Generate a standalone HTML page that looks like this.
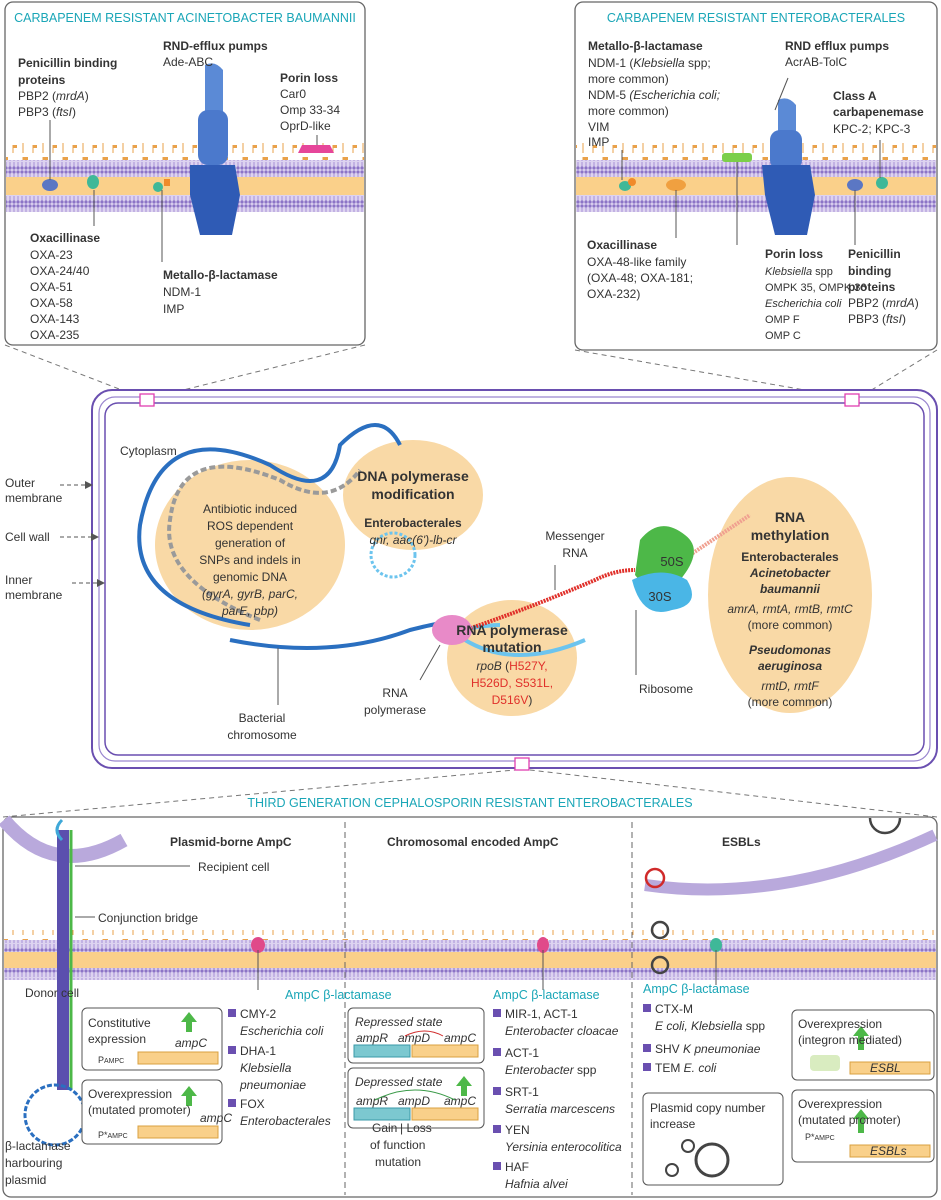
<!DOCTYPE html>
<html><head><meta charset="utf-8"><style>
body{margin:0;background:#fff}
svg{display:block;font-family:"Liberation Sans",sans-serif}
.t{font-size:12px;fill:#333}
.b{font-weight:bold}
.i{font-style:italic}
.tl{fill:#1aa6b7;font-size:12.5px}
.c{text-anchor:middle}
</style></head><body>
<svg width="941" height="1200" viewBox="0 0 941 1200" xmlns="http://www.w3.org/2000/svg">
<defs>
<pattern id="lip" width="4" height="17" patternUnits="userSpaceOnUse">
<rect width="4" height="17" fill="#ddd3f0"/><circle cx="2" cy="2" r="1.6" fill="#8c74c6"/><line x1="2" y1="3" x2="2" y2="8" stroke="#a792d6"/><line x1="2" y1="9" x2="2" y2="14" stroke="#a792d6"/><circle cx="2" cy="15" r="1.6" fill="#8c74c6"/>
</pattern>
<pattern id="flag" width="20" height="17" patternUnits="userSpaceOnUse">
<line x1="3" y1="4" x2="3" y2="17" stroke="#e9a14a"/><path d="M3 4h5v3h-5z" fill="#e9a14a"/><line x1="13" y1="9" x2="13" y2="17" stroke="#e9a14a"/><path d="M13 9h4v3h-4z" fill="#e9a14a"/>
</pattern>
<marker id="ar" markerWidth="8" markerHeight="8" refX="7" refY="4" orient="auto"><path d="M0,0 L8,4 L0,8z" fill="#555"/></marker>
</defs>

<!-- TOP LEFT PANEL -->
<rect x="5" y="2" width="360" height="343" rx="8" fill="#fff" stroke="#666" stroke-width="1.3"/>
<text x="185" y="22" class="tl c">CARBAPENEM RESISTANT ACINETOBACTER BAUMANNII</text>
<rect x="6" y="143" width="358" height="17" fill="url(#flag)"/>
<rect x="6" y="160" width="358" height="17" fill="url(#lip)"/>
<rect x="6" y="177" width="358" height="18" fill="#fad08a"/>
<rect x="6" y="195" width="358" height="17" fill="url(#lip)"/>
<path d="M205 65 q10 -5 18 5 l0 90 l-18 0z" fill="#5b8ad6"/>
<rect x="198" y="110" width="30" height="55" rx="10" fill="#4b79cc"/>
<path d="M190 165 h45 l5 30 l-8 40 h-32 l-10 -40z" fill="#2f5bb5"/>
<ellipse cx="50" cy="185" rx="8" ry="6" fill="#5b77c4"/>
<ellipse cx="93" cy="182" rx="6" ry="7" fill="#3fb898"/>
<ellipse cx="158" cy="187" rx="5" ry="5" fill="#3fb898"/><rect x="164" y="179" width="6" height="7" fill="#f08a2a"/>
<path d="M298 153 l4 -8 h28 l4 8z" fill="#e6469a"/>
<line x1="50" y1="120" x2="50" y2="180" stroke="#555"/>
<line x1="94" y1="190" x2="94" y2="226" stroke="#555"/>
<line x1="162" y1="190" x2="162" y2="262" stroke="#555"/>
<line x1="317" y1="135" x2="317" y2="145" stroke="#555"/>
<g class="t">
<text x="18" y="67" class="b">Penicillin binding</text><text x="18" y="84" class="b">proteins</text>
<text x="18" y="100">PBP2 (<tspan class="i">mrdA</tspan>)</text><text x="18" y="116">PBP3 (<tspan class="i">ftsI</tspan>)</text>
<text x="163" y="50" class="b">RND-efflux pumps</text><text x="163" y="66">Ade-ABC</text>
<text x="280" y="82" class="b">Porin loss</text><text x="280" y="98">Car0</text><text x="280" y="114">Omp 33-34</text><text x="280" y="130">OprD-like</text>
<text x="30" y="242" class="b">Oxacillinase</text><text x="30" y="259">OXA-23</text><text x="30" y="275">OXA-24/40</text><text x="30" y="291">OXA-51</text><text x="30" y="307">OXA-58</text><text x="30" y="323">OXA-143</text><text x="30" y="339">OXA-235</text>
<text x="163" y="279" class="b">Metallo-β-lactamase</text><text x="163" y="296">NDM-1</text><text x="163" y="313">IMP</text>
</g>

<!-- TOP RIGHT PANEL -->
<rect x="575" y="2" width="362" height="348" rx="8" fill="#fff" stroke="#666" stroke-width="1.3"/>
<text x="756" y="22" class="tl c">CARBAPENEM RESISTANT ENTEROBACTERALES</text>
<rect x="576" y="143" width="360" height="17" fill="url(#flag)"/>
<rect x="576" y="160" width="360" height="17" fill="url(#lip)"/>
<rect x="576" y="177" width="360" height="18" fill="#fad08a"/>
<rect x="576" y="195" width="360" height="17" fill="url(#lip)"/>
<path d="M778 100 q10 -5 18 5 l0 60 l-18 0z" fill="#5b8ad6"/>
<rect x="770" y="130" width="32" height="40" rx="10" fill="#4b79cc"/>
<path d="M762 165 h48 l5 30 l-8 40 h-32 l-10 -40z" fill="#2f5bb5"/>
<ellipse cx="625" cy="186" rx="6" ry="5" fill="#3fb898"/><ellipse cx="632" cy="182" rx="4" ry="4" fill="#f08a2a"/>
<ellipse cx="676" cy="185" rx="10" ry="6" fill="#f0a040"/>
<rect x="722" y="153" width="30" height="9" rx="3" fill="#7ccf4a"/>
<ellipse cx="855" cy="185" rx="8" ry="6" fill="#5b77c4"/><ellipse cx="882" cy="183" rx="6" ry="6" fill="#3fb898"/>
<line x1="622" y1="150" x2="622" y2="180" stroke="#555"/>
<line x1="676" y1="190" x2="676" y2="238" stroke="#555"/>
<line x1="737" y1="162" x2="737" y2="245" stroke="#555"/>
<line x1="788" y1="78" x2="775" y2="110" stroke="#555"/>
<line x1="855" y1="190" x2="855" y2="245" stroke="#555"/>
<line x1="880" y1="140" x2="880" y2="178" stroke="#555"/>
<g class="t">
<text x="588" y="50" class="b">Metallo-β-lactamase</text><text x="588" y="67">NDM-1 (<tspan class="i">Klebsiella</tspan> spp;</text><text x="588" y="83">more common)</text><text x="588" y="99">NDM-5 <tspan class="i">(Escherichia coli;</tspan></text><text x="588" y="115">more common)</text><text x="588" y="131">VIM</text><text x="588" y="146">IMP</text>
<text x="785" y="50" class="b">RND efflux pumps</text><text x="785" y="66">AcrAB-TolC</text>
<text x="833" y="100" class="b">Class A</text><text x="833" y="116" class="b">carbapenemase</text><text x="833" y="133">KPC-2; KPC-3</text>
<text x="587" y="249" class="b">Oxacillinase</text><text x="587" y="266">OXA-48-like family</text><text x="587" y="282">(OXA-48; OXA-181;</text><text x="587" y="298">OXA-232)</text>
<g style="font-size:11px"><text x="765" y="258" class="b" style="font-size:12px">Porin loss</text><text x="765" y="275" class="i">Klebsiella <tspan style="font-style:normal">spp</tspan></text><text x="765" y="291">OMPK 35, OMPK 36</text><text x="765" y="307" class="i">Escherichia coli</text><text x="765" y="323">OMP F</text><text x="765" y="339">OMP C</text></g>
<text x="848" y="258" class="b">Penicillin</text><text x="848" y="275" class="b">binding</text><text x="848" y="291" class="b">proteins</text><text x="848" y="307">PBP2 (<tspan class="i">mrdA</tspan>)</text><text x="848" y="323">PBP3 (<tspan class="i">ftsI</tspan>)</text>
</g>

<g stroke="#777" stroke-dasharray="5,4" fill="none">
<line x1="5" y1="345" x2="140" y2="397"/><line x1="365" y1="345" x2="155" y2="397"/>
<line x1="575" y1="350" x2="845" y2="397"/><line x1="937" y1="350" x2="860" y2="397"/>
<line x1="3" y1="817" x2="515" y2="770"/><line x1="937" y1="817" x2="530" y2="770"/>
</g>

<!-- CELL -->
<rect x="92" y="390" width="845" height="378" rx="20" fill="#fff" stroke="#6a4fb0" stroke-width="2"/>
<rect x="99" y="397" width="831" height="364" rx="16" fill="none" stroke="#9a86cf" stroke-width="1.2"/>
<rect x="105" y="403" width="819" height="352" rx="13" fill="none" stroke="#6a4fb0" stroke-width="1.5"/>
<rect x="140" y="394" width="14" height="12" fill="#fff" stroke="#e03fb0" stroke-width="1.3"/>
<rect x="845" y="394" width="14" height="12" fill="#fff" stroke="#e03fb0" stroke-width="1.3"/>
<rect x="515" y="758" width="14" height="12" fill="#fff" stroke="#e03fb0" stroke-width="1.3"/>
<text x="120" y="455" class="t">Cytoplasm</text>
<g class="t">
<text x="5" y="487">Outer</text><text x="5" y="502">membrane</text>
<text x="5" y="541">Cell wall</text>
<text x="5" y="584">Inner</text><text x="5" y="599">membrane</text>
</g>
<g stroke="#555" stroke-dasharray="4,3" marker-end="url(#ar)">
<line x1="60" y1="485" x2="92" y2="485"/><line x1="60" y1="537" x2="98" y2="537"/><line x1="72" y1="583" x2="104" y2="583"/>
</g>
<ellipse cx="250" cy="545" rx="95" ry="85" fill="#f9d9a6"/>
<ellipse cx="413" cy="495" rx="70" ry="55" fill="#f9d9a6"/>
<ellipse cx="512" cy="658" rx="65" ry="58" fill="#f9d9a6"/>
<ellipse cx="790" cy="595" rx="82" ry="118" fill="#f9d9a6"/>
<g fill="none" stroke-width="4">
<path d="M250 625 q-120 -20 -110 -100 q20 -110 130 -60 q60 40 70 -20 q40 -40 60 0" stroke="#2a6fc0"/>
<path d="M260 620 q-100 -40 -90 -100 q10 -80 110 -40 q50 30 80 -10" stroke="#9a9a9a" stroke-dasharray="6,3"/>
<path d="M230 640 q100 20 180 -10 q40 -10 30 -5" stroke="#2a6fc0"/>
<path d="M440 635 q40 -10 60 -10" stroke="#6cc4ee"/>
<path d="M465 640 q50 30 120 0" stroke="#6cc4ee"/>
</g>
<circle cx="393" cy="555" r="22" fill="none" stroke="#6cc4ee" stroke-width="3" stroke-dasharray="3,2"/>
<path d="M465 630 q60 -20 130 -50 q20 -10 40 -10" fill="none" stroke="#e0302a" stroke-width="4" stroke-dasharray="2,1"/>
<path d="M690 555 q30 -20 60 -40" fill="none" stroke="#f0a090" stroke-width="4" stroke-dasharray="2,1"/>
<ellipse cx="452" cy="630" rx="20" ry="15" fill="#e88ac8"/>
<path d="M640 540 q20 -25 45 -5 q20 15 -5 45 q-30 15 -45 -5z" fill="#4db848"/>
<path d="M632 580 q30 -15 55 0 q15 25 -15 30 q-30 10 -40 -30z" fill="#4ab6e6"/>
<g stroke="#555"><line x1="278" y1="705" x2="278" y2="648"/><line x1="420" y1="680" x2="440" y2="645"/><line x1="636" y1="675" x2="636" y2="610"/><line x1="555" y1="565" x2="555" y2="590"/></g>
<g class="t c">
<text x="250" y="513">Antibiotic induced</text><text x="250" y="530">ROS dependent</text><text x="250" y="547">generation of</text><text x="250" y="564">SNPs and indels in</text><text x="250" y="581">genomic DNA</text><text x="250" y="598" class="i">(gyrA, gyrB, parC,</text><text x="250" y="615" class="i">parE, pbp)</text>
<text x="413" y="481" class="b" style="font-size:14px">DNA polymerase</text><text x="413" y="499" class="b" style="font-size:14px">modification</text><text x="413" y="527" class="b">Enterobacterales</text><text x="413" y="544" class="i">qnr, aac(6')-lb-cr</text>
<text x="512" y="635" class="b" style="font-size:14px">RNA polymerase</text><text x="512" y="652" class="b" style="font-size:14px">mutation</text>
<text x="512" y="670"><tspan class="i">rpoB</tspan> (<tspan fill="#e0302a">H527Y,</tspan></text><text x="512" y="687" fill="#e0302a">H526D, S531L,</text><text x="512" y="704"><tspan fill="#e0302a">D516V</tspan>)</text>
<text x="575" y="540">Messenger</text><text x="575" y="557">RNA</text>
<text x="262" y="722">Bacterial</text><text x="262" y="739">chromosome</text>
<text x="395" y="697">RNA</text><text x="395" y="714">polymerase</text>
<text x="666" y="693">Ribosome</text>
<text x="672" y="566" style="font-size:13px">50S</text><text x="660" y="601" style="font-size:13px">30S</text>
<text x="790" y="522" class="b" style="font-size:14px">RNA</text><text x="790" y="540" class="b" style="font-size:14px">methylation</text>
<text x="790" y="561" class="b">Enterobacterales</text><text x="790" y="577" class="b i">Acinetobacter</text><text x="790" y="593" class="b i">baumannii</text>
<text x="790" y="613" class="i">amrA, rmtA, rmtB, rmtC</text><text x="790" y="629">(more common)</text>
<text x="790" y="654" class="b i">Pseudomonas</text><text x="790" y="670" class="b i">aeruginosa</text>
<text x="790" y="690" class="i">rmtD, rmtF</text><text x="790" y="706">(more common)</text>
</g>

<!-- BOTTOM PANEL -->
<text x="470" y="807" class="tl c">THIRD GENERATION CEPHALOSPORIN RESISTANT ENTEROBACTERALES</text>
<rect x="3" y="817" width="934" height="380" rx="8" fill="none" stroke="#666" stroke-width="1.3"/>
<path d="M4 820 q50 60 120 20" fill="none" stroke="#b9a9dc" stroke-width="14"/>
<path d="M645 885 q140 20 290 -50" fill="none" stroke="#b9a9dc" stroke-width="12"/>
<circle cx="655" cy="878" r="9" fill="none" stroke="#d02a2a" stroke-width="2.5"/>
<path d="M870 818 a15 15 0 0 0 30 0" fill="none" stroke="#444" stroke-width="2.5"/>
<rect x="4" y="930" width="932" height="17" fill="url(#flag)"/>
<rect x="4" y="940" width="932" height="12" fill="url(#lip)"/>
<rect x="4" y="952" width="932" height="16" fill="#fad08a"/>
<rect x="4" y="968" width="932" height="12" fill="url(#lip)"/>
<line x1="345" y1="822" x2="345" y2="1195" stroke="#666" stroke-dasharray="6,4"/>
<line x1="632" y1="822" x2="632" y2="1195" stroke="#666" stroke-dasharray="6,4"/>
<rect x="57" y="830" width="12" height="260" fill="#5b4fae"/>
<path d="M62 820 q-10 10 0 20" stroke="#3fa8d8" stroke-width="3" fill="none"/>
<line x1="71" y1="830" x2="71" y2="1090" stroke="#4db848" stroke-width="3"/>
<circle cx="55" cy="1115" r="30" fill="none" stroke="#2a6fc0" stroke-width="3" stroke-dasharray="5,2"/>
<ellipse cx="258" cy="945" rx="7" ry="8" fill="#e04a8a"/><ellipse cx="543" cy="945" rx="6" ry="8" fill="#e04a8a"/><ellipse cx="716" cy="945" rx="6" ry="7" fill="#3fb898"/>
<circle cx="660" cy="930" r="8" fill="none" stroke="#444" stroke-width="2.5"/><circle cx="660" cy="965" r="8" fill="none" stroke="#444" stroke-width="2.5"/>
<g stroke="#555"><line x1="75" y1="866" x2="190" y2="866"/><line x1="75" y1="917" x2="95" y2="917"/><line x1="258" y1="950" x2="258" y2="990"/><line x1="543" y1="950" x2="543" y2="990"/><line x1="716" y1="950" x2="716" y2="985"/></g>
<g class="t">
<text x="170" y="846" class="b">Plasmid-borne AmpC</text>
<text x="387" y="846" class="b">Chromosomal encoded AmpC</text>
<text x="722" y="846" class="b">ESBLs</text>
<text x="198" y="871">Recipient cell</text>
<text x="98" y="922">Conjunction bridge</text>
<text x="25" y="997">Donor cell</text>
<text x="5" y="1150">β-lactamase</text><text x="5" y="1167">harbouring</text><text x="5" y="1184">plasmid</text>
</g>
<g fill="#fff" stroke="#555"><rect x="82" y="1008" width="140" height="62" rx="5"/><rect x="82" y="1080" width="140" height="64" rx="5"/>
<rect x="348" y="1008" width="136" height="55" rx="5"/><rect x="348" y="1068" width="136" height="60" rx="5"/>
<rect x="643" y="1093" width="140" height="92" rx="5"/><rect x="792" y="1010" width="142" height="70" rx="5"/><rect x="792" y="1090" width="142" height="72" rx="5"/></g>
<g fill="#f9d08a" stroke="#d9a040"><rect x="138" y="1052" width="80" height="12"/><rect x="138" y="1126" width="80" height="12"/><rect x="412" y="1045" width="66" height="12"/><rect x="412" y="1108" width="66" height="12"/><rect x="850" y="1062" width="80" height="12"/><rect x="850" y="1145" width="80" height="12"/></g>
<g fill="#7cc8d0" stroke="#3a9aa8"><rect x="354" y="1045" width="56" height="12"/><rect x="354" y="1108" width="56" height="12"/></g>
<g fill="#4db848"><path d="M186 1032 h6 v-10 h5 l-8 -10 l-8 10 h5z"/><path d="M186 1106 h6 v-10 h5 l-8 -10 l-8 10 h5z"/><path d="M461 1096 h6 v-10 h5 l-8 -10 l-8 10 h5z"/><path d="M858 1050 h6 v-14 h5 l-8 -10 l-8 10 h5z"/><path d="M858 1133 h6 v-14 h5 l-8 -10 l-8 10 h5z"/></g>
<g class="t">
<text x="88" y="1027">Constitutive</text><text x="88" y="1043">expression</text><text x="175" y="1047" class="i">ampC</text><text x="98" y="1063" style="font-size:9px">P<tspan font-size="7">AMPC</tspan></text>
<text x="88" y="1098">Overexpression</text><text x="88" y="1114">(mutated promoter)</text><text x="175" y="1122" class="i" style="display:none">ampC</text><text x="98" y="1138" style="font-size:9px">P*<tspan font-size="7">AMPC</tspan></text>
<text x="355" y="1026" class="i">Repressed state</text><text x="356" y="1042" class="i">ampR</text><text x="398" y="1042" class="i">ampD</text><text x="444" y="1042" class="i">ampC</text>
<text x="355" y="1086" class="i">Depressed state</text><text x="356" y="1105" class="i">ampR</text><text x="398" y="1105" class="i">ampD</text><text x="444" y="1105" class="i">ampC</text>
<text x="372" y="1132">Gain</text><text x="400" y="1132">| Loss</text><text x="370" y="1149">of function</text><text x="375" y="1166">mutation</text>
<text x="650" y="1112">Plasmid copy number</text><text x="650" y="1128">increase</text>
<text x="798" y="1028">Overexpression</text><text x="798" y="1044">(integron mediated)</text><text x="870" y="1072" class="i">ESBL</text>
<text x="798" y="1108">Overexpression</text><text x="798" y="1124">(mutated promoter)</text><text x="870" y="1155" class="i">ESBLs</text>
<text x="805" y="1140" style="font-size:9px">P*<tspan font-size="7">AMPC</tspan></text>
</g>
<text x="200" y="1122" class="t i">ampC</text>
<circle cx="712" cy="1160" r="16" fill="none" stroke="#444" stroke-width="3"/><circle cx="672" cy="1170" r="6" fill="none" stroke="#444" stroke-width="2"/><circle cx="688" cy="1146" r="6" fill="none" stroke="#444" stroke-width="2"/>
<rect x="810" y="1055" width="30" height="16" rx="4" fill="#d9ecc0"/>
<path d="M405 1036 q20 -10 38 0" fill="none" stroke="#d02a2a"/>
<path d="M375 1100 q40 -20 80 0" fill="none" stroke="#3a9a48"/>
<g class="tl"><text x="285" y="999">AmpC β-lactamase</text><text x="493" y="999">AmpC β-lactamase</text><text x="643" y="993">AmpC β-lactamase</text></g>
<g fill="#6a4fb0"><rect x="228" y="1009" width="8" height="8"/><rect x="228" y="1046" width="8" height="8"/><rect x="228" y="1099" width="8" height="8"/>
<rect x="493" y="1009" width="8" height="8"/><rect x="493" y="1048" width="8" height="8"/><rect x="493" y="1087" width="8" height="8"/><rect x="493" y="1125" width="8" height="8"/><rect x="493" y="1162" width="8" height="8"/>
<rect x="643" y="1004" width="8" height="8"/><rect x="643" y="1044" width="8" height="8"/><rect x="643" y="1063" width="8" height="8"/></g>
<g class="t">
<text x="240" y="1018">CMY-2</text><text x="240" y="1035" class="i">Escherichia coli</text><text x="240" y="1055">DHA-1</text><text x="240" y="1072" class="i">Klebsiella</text><text x="240" y="1089" class="i">pneumoniae</text><text x="240" y="1108">FOX</text><text x="240" y="1125" class="i">Enterobacterales</text>
<text x="505" y="1018">MIR-1, ACT-1</text><text x="505" y="1035" class="i">Enterobacter cloacae</text><text x="505" y="1057">ACT-1</text><text x="505" y="1074" class="i">Enterobacter <tspan style="font-style:normal">spp</tspan></text><text x="505" y="1096">SRT-1</text><text x="505" y="1113" class="i">Serratia marcescens</text><text x="505" y="1134">YEN</text><text x="505" y="1151" class="i">Yersinia enterocolitica</text><text x="505" y="1171">HAF</text><text x="505" y="1188" class="i">Hafnia alvei</text>
<text x="655" y="1013">CTX-M</text><text x="655" y="1030" class="i">E coli, Klebsiella <tspan style="font-style:normal">spp</tspan></text><text x="655" y="1053">SHV <tspan class="i">K pneumoniae</tspan></text><text x="655" y="1072">TEM <tspan class="i">E. coli</tspan></text>
</g>
</svg>
</body></html>
